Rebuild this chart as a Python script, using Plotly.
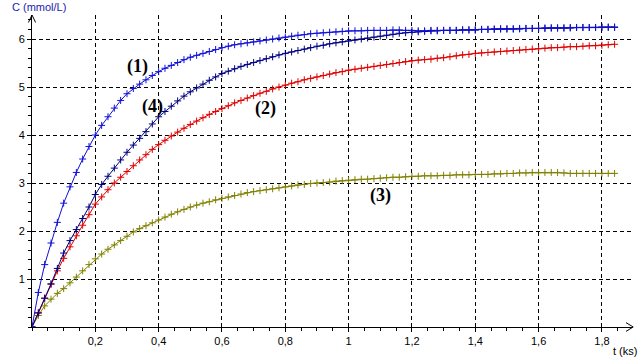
import plotly.graph_objects as go

# sample times (ks), one sample every 0.02 ks
t_ks = [round(i * 0.02, 2) for i in range(93)]

c1 = [0, 0.72, 1.30, 1.75, 2.18, 2.58, 2.92, 3.22, 3.50, 3.76,
      4.00, 4.20, 4.38, 4.56, 4.72, 4.86, 4.97, 5.06, 5.15, 5.24,
      5.32, 5.39, 5.45, 5.51, 5.57, 5.62, 5.66, 5.70, 5.74, 5.78,
      5.82, 5.85, 5.88, 5.90, 5.92, 5.94, 5.96, 5.98, 6.00, 6.02,
      6.04, 6.06, 6.08, 6.09, 6.11, 6.12, 6.13, 6.14, 6.15, 6.16,
      6.17, 6.17, 6.17, 6.18, 6.18, 6.18, 6.18, 6.19, 6.19, 6.18,
      6.18, 6.17, 6.17, 6.18, 6.18, 6.18, 6.18, 6.18, 6.19, 6.19,
      6.19, 6.20, 6.20, 6.21, 6.21, 6.21, 6.21, 6.22, 6.22, 6.22,
      6.22, 6.23, 6.23, 6.23, 6.23, 6.24, 6.24, 6.24, 6.24, 6.24,
      6.24, 6.24, 6.24]

c4 = [0, 0.29, 0.60, 0.90, 1.22, 1.54, 1.80, 2.03, 2.26, 2.50,
      2.76, 2.97, 3.14, 3.31, 3.48, 3.64, 3.79, 3.93, 4.07, 4.23,
      4.38, 4.49, 4.60, 4.71, 4.81, 4.90, 4.98, 5.06, 5.14, 5.21,
      5.28, 5.33, 5.38, 5.43, 5.47, 5.51, 5.55, 5.59, 5.63, 5.67,
      5.70, 5.73, 5.76, 5.79, 5.82, 5.85, 5.87, 5.90, 5.92, 5.94,
      5.96, 5.98, 6.00, 6.02, 6.04, 6.06, 6.08, 6.10, 6.12, 6.13,
      6.14, 6.15, 6.16, 6.17, 6.17, 6.18, 6.18, 6.18, 6.19, 6.19,
      6.19, 6.20, 6.20, 6.20, 6.21, 6.21, 6.21, 6.21, 6.22, 6.22,
      6.22, 6.22, 6.23, 6.23, 6.23, 6.23, 6.24, 6.24, 6.24, 6.24,
      6.25, 6.25, 6.25]

c2 = [0, 0.30, 0.60, 0.89, 1.17, 1.43, 1.67, 1.90, 2.12, 2.34,
      2.56, 2.71, 2.86, 3.00, 3.12, 3.24, 3.36, 3.48, 3.59, 3.70,
      3.80, 3.89, 3.98, 4.06, 4.14, 4.22, 4.29, 4.36, 4.43, 4.49,
      4.55, 4.61, 4.67, 4.72, 4.77, 4.82, 4.87, 4.91, 4.96, 5.00,
      5.04, 5.08, 5.11, 5.15, 5.18, 5.21, 5.24, 5.27, 5.30, 5.32,
      5.35, 5.37, 5.39, 5.41, 5.43, 5.45, 5.47, 5.49, 5.51, 5.53,
      5.55, 5.56, 5.57, 5.58, 5.60, 5.61, 5.63, 5.65, 5.67, 5.68,
      5.70, 5.71, 5.72, 5.73, 5.74, 5.75, 5.76, 5.77, 5.78, 5.79,
      5.80, 5.81, 5.82, 5.82, 5.83, 5.84, 5.84, 5.85, 5.86, 5.86,
      5.87, 5.88, 5.89]

c3 = [0, 0.24, 0.44, 0.58, 0.70, 0.80, 0.92, 1.04, 1.17, 1.30,
      1.42, 1.52, 1.62, 1.71, 1.80, 1.89, 1.98, 2.05, 2.11, 2.17,
      2.23, 2.29, 2.35, 2.40, 2.45, 2.50, 2.54, 2.58, 2.61, 2.65,
      2.68, 2.71, 2.74, 2.77, 2.80, 2.82, 2.84, 2.86, 2.88, 2.90,
      2.92, 2.94, 2.96, 2.97, 2.99, 3.00, 3.01, 3.02, 3.04, 3.05,
      3.06, 3.07, 3.08, 3.08, 3.09, 3.10, 3.11, 3.12, 3.12, 3.13,
      3.14, 3.14, 3.15, 3.15, 3.15, 3.16, 3.16, 3.17, 3.17, 3.17,
      3.18, 3.18, 3.18, 3.19, 3.19, 3.20, 3.20, 3.21, 3.21, 3.22,
      3.22, 3.22, 3.22, 3.22, 3.21, 3.20, 3.20, 3.20, 3.20, 3.20,
      3.20, 3.20, 3.20]

x_tickvals = [0.2, 0.4, 0.6, 0.8, 1.0, 1.2, 1.4, 1.6, 1.8]
x_ticktext = ["0,2", "0,4", "0,6", "0,8", "1", "1,2", "1,4", "1,6", "1,8"]
y_tickvals = [1, 2, 3, 4, 5, 6]

curve_labels = ["(1)", "(4)", "(2)", "(3)"]
label_t = [0.332, 0.379, 0.736, 1.102]
label_c = [5.42, 4.60, 4.56, 2.75]

series = [
    (c3, "#808000"),
    (c2, "#e00000"),
    (c4, "#000080"),
    (c1, "#1010d8"),
]

fig = go.Figure()
for vals, col in series:
    fig.add_trace(go.Scatter(
        x=t_ks, y=vals, mode="lines+markers",
        line=dict(color=col, width=1),
        marker=dict(symbol="cross-thin", size=5, line=dict(color=col, width=1)),
        showlegend=False, hoverinfo="skip",
    ))

for txt, tx, cy in zip(curve_labels, label_t, label_c):
    fig.add_annotation(x=tx, y=cy, text="<b>%s</b>" % txt, showarrow=False,
                       font=dict(family="Liberation Serif, Times New Roman, serif",
                                 size=18, color="black"))

fig.add_annotation(xref="paper", yref="paper", x=-0.037, y=1.026,
                   xanchor="left", yanchor="middle", text="C (mmol/L)",
                   showarrow=False,
                   font=dict(family="Liberation Sans, Arial, sans-serif", size=11, color="#1a1ab0"))
fig.add_annotation(xref="paper", yref="paper", x=1.011, y=-0.077,
                   xanchor="right", yanchor="middle", text="t (ks)",
                   showarrow=False,
                   font=dict(family="Liberation Sans, Arial, sans-serif", size=11, color="black"))

# axis arrow heads
fig.add_shape(type="path", xref="paper", yref="paper",
              path="M -0.006 0.976 L 0 1 L 0.006 0.976",
              line=dict(color="black", width=1))
fig.add_shape(type="path", xref="paper", yref="paper",
              path="M 0.99 0.014 L 1.002 0 L 0.99 -0.014",
              line=dict(color="black", width=1))

tickfont = dict(family="Liberation Sans, Arial, sans-serif", size=11, color="black")

fig.update_layout(
    width=640, height=360,
    margin=dict(l=32, r=8, t=15, b=33, pad=0, autoexpand=False),
    paper_bgcolor="white", plot_bgcolor="white",
    xaxis=dict(range=[0, 1.895], tickvals=x_tickvals, ticktext=x_ticktext,
               automargin=False,
               showgrid=True, gridcolor="black", gridwidth=1, griddash="4px,3px",
               showline=True, linecolor="black", linewidth=1, zeroline=False,
               ticks="outside", ticklen=4, tickcolor="black", tickfont=tickfont,
               minor=dict(dtick=0.05, tick0=0, ticks="outside", ticklen=3,
                          tickcolor="black", showgrid=False)),
    yaxis=dict(range=[0, 6.5], tickvals=y_tickvals,
               automargin=False,
               showgrid=True, gridcolor="black", gridwidth=1, griddash="4px,3px",
               showline=True, linecolor="black", linewidth=1, zeroline=False,
               ticks="outside", ticklen=4, tickcolor="black", tickfont=tickfont,
               minor=dict(dtick=0.2, tick0=0, ticks="outside", ticklen=3,
                          tickcolor="black", showgrid=False)),
)

fig.write_html("out.html",
               config={"displayModeBar": False, "staticPlot": True},
               post_script="document.body.style.margin='0';document.body.style.overflow='hidden';")
